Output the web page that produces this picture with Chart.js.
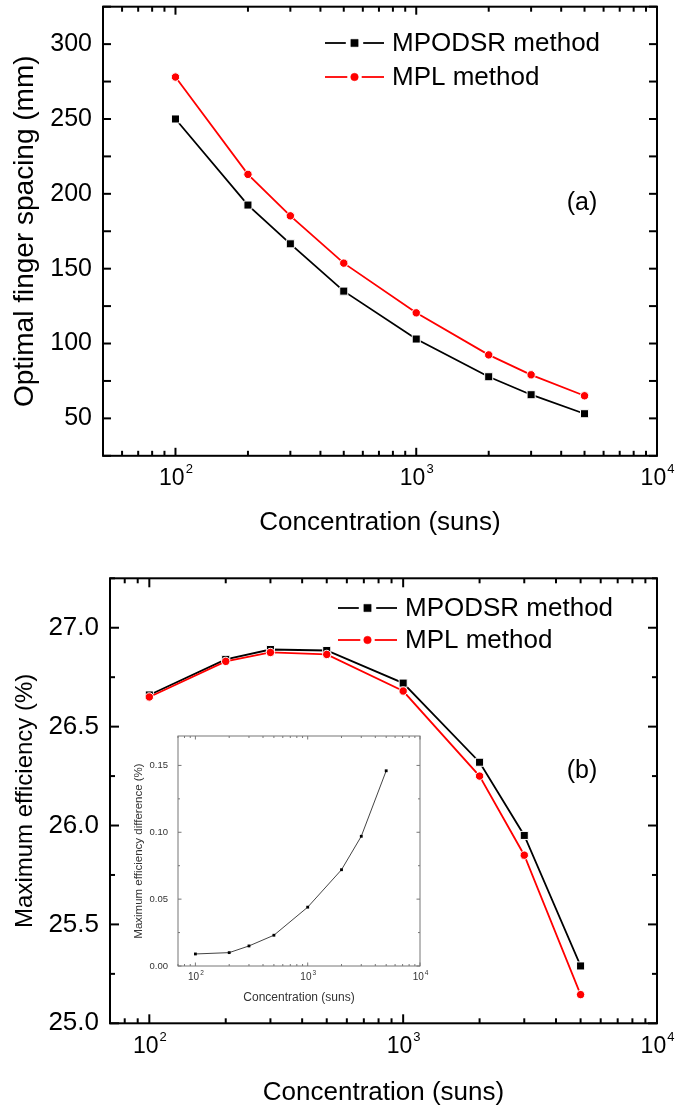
<!DOCTYPE html>
<html>
<head>
<meta charset="utf-8">
<script src="https://cdn.jsdelivr.net/npm/chart.js@4.4.1/dist/chart.umd.min.js"></script>
<style>
body { margin: 0; background: #fff; width: 676px; height: 1111px; position: relative; overflow: hidden; }
canvas { position: absolute; }
</style>
</head>
<body>
<canvas id="chartA" width="676" height="545" style="left:0;top:0"></canvas>
<canvas id="chartB" width="676" height="551" style="left:0;top:560px"></canvas>
<canvas id="chartInset" width="320" height="290" style="left:120px;top:725px"></canvas>
<script>
// values
var concentration = [100, 200, 300, 500, 1000, 2000, 3000, 5000];
var spacingMPODSR = [250, 192.5, 166.6, 135, 103, 77.8, 65.8, 53.1];
var spacingMPL = [278, 213, 185.3, 153.7, 120.5, 92.4, 79.1, 65.1];
var effMPODSR = [26.66, 26.84, 26.89, 26.885, 26.72, 26.32, 25.95, 25.29];
var effMPL = [26.65, 26.83, 26.875, 26.865, 26.68, 26.25, 25.85, 25.145];
var effDiff = [0.009, 0.010, 0.015, 0.023, 0.044, 0.072, 0.097, 0.146];

var decadeTicks = [100, 1000, 10000];
var spacingTicks = [50, 100, 150, 200, 250, 300];
var effTicks = [25.0, 25.5, 26.0, 26.5, 27.0];
var diffTicks = [0, 0.05, 0.10, 0.15];
var seriesNames = ['MPODSR method', 'MPL method'];

var FONT = "'Liberation Sans', Arial, sans-serif";

function pairs(xs, ys) {
    return xs.map(function(x, i) { return {x: x, y: ys[i]}; });
}

function line(ctx, x1, y1, x2, y2) {
    ctx.beginPath();
    ctx.moveTo(x1, y1);
    ctx.lineTo(x2, y2);
    ctx.stroke();
}

// Origin-like box: frame, inward ticks on all sides, 10^n labels, legend, panel tag
var originFrame = {
    id: 'originFrame',
    beforeDatasetsDraw: function(chart, args, o) {
        if (!o.fill) return;
        var ca = chart.chartArea, ctx = chart.ctx;
        ctx.save();
        ctx.fillStyle = '#fff';
        ctx.fillRect(ca.left, ca.top, ca.right - ca.left, ca.bottom - ca.top);
        ctx.restore();
    },
    afterDraw: function(chart, args, o) {
        var ca = chart.chartArea, ctx = chart.ctx;
        var x = chart.scales.x, y = chart.scales.y;
        ctx.save();
        ctx.strokeStyle = o.color;
        ctx.lineWidth = o.width;
        ctx.strokeRect(ca.left, ca.top, ca.right - ca.left, ca.bottom - ca.top);

        // log x ticks
        var e0 = Math.floor(Math.log10(x.min)), e1 = Math.ceil(Math.log10(x.max));
        for (var e = e0; e <= e1; e++) {
            for (var m = 1; m < 10; m++) {
                var v = m * Math.pow(10, e);
                if (v < x.min * 0.999 || v > x.max * 1.001) continue;
                var px = x.getPixelForValue(v);
                var len = m === 1 ? o.major : o.minor;
                line(ctx, px, ca.bottom, px, ca.bottom - len);
                line(ctx, px, ca.top, px, ca.top + len);
            }
        }
        // linear y ticks
        var step = o.yMinor;
        for (var k = Math.ceil(y.min / step - 1e-6); k * step <= y.max + 1e-9; k++) {
            var val = k * step;
            var py = y.getPixelForValue(val);
            var major = o.yAllMajor || Math.abs(val / (2 * step) - Math.round(val / (2 * step))) < 1e-6;
            var l2 = major ? o.major : o.minor;
            line(ctx, ca.left, py, ca.left + l2, py);
            line(ctx, ca.right, py, ca.right - l2, py);
        }

        // 10^n labels
        ctx.fillStyle = o.textColor;
        ctx.textBaseline = 'middle';
        ctx.textAlign = 'left';
        decadeTicks.forEach(function(d) {
            if (d < x.min || d > x.max * 1.001) return;
            var p = x.getPixelForValue(d);
            var ex = String(Math.round(Math.log10(d)));
            ctx.font = o.baseSize + 'px ' + FONT;
            var w1 = ctx.measureText('10').width;
            ctx.font = o.expSize + 'px ' + FONT;
            var w2 = ctx.measureText(ex).width;
            var sx = p - (w1 + w2) / 2;
            ctx.font = o.baseSize + 'px ' + FONT;
            ctx.fillText('10', sx, ca.bottom + o.baseDy);
            ctx.font = o.expSize + 'px ' + FONT;
            ctx.fillText(ex, sx + w1 + 1, ca.bottom + o.expDy);
        });

        // legend: line - marker - line, then the label
        if (o.legend) {
            var L = o.legend;
            chart.data.datasets.forEach(function(ds, i) {
                var ly = L.y[i], mid = (L.x1 + L.x2) / 2, gap = ds.pointRadius + 3;
                ctx.strokeStyle = ds.borderColor;
                ctx.lineWidth = ds.borderWidth;
                line(ctx, L.x1, ly, mid - gap, ly);
                line(ctx, mid + gap, ly, L.x2, ly);
                ctx.fillStyle = ds.pointBackgroundColor;
                ctx.strokeStyle = ds.pointBackgroundColor;
                ctx.lineWidth = 0.5;
                Chart.helpers.drawPoint(ctx, {pointStyle: ds.pointStyle, radius: ds.pointRadius * 0.9, borderWidth: 0.5, rotation: 0}, mid, ly);
                ctx.fillStyle = '#000';
                ctx.font = L.size + 'px ' + FONT;
                ctx.textAlign = 'left';
                ctx.textBaseline = 'middle';
                ctx.fillText(ds.label, L.tx, ly + 1);
            });
        }
        if (o.tag) {
            ctx.fillStyle = '#000';
            ctx.font = o.tag.size + 'px ' + FONT;
            ctx.textAlign = 'center';
            ctx.textBaseline = 'middle';
            ctx.fillText(o.tag.text, o.tag.x, o.tag.y);
        }
        ctx.restore();
    }
};

function blackSet(label, data) {
    return {
        label: label, data: data, order: 1,
        borderColor: '#000', borderWidth: 1.8, tension: 0,
        pointStyle: 'rect', pointRadius: 5.7, pointBackgroundColor: '#000',
        pointBorderColor: '#fff', pointBorderWidth: 1
    };
}
function redSet(label, data) {
    return {
        label: label, data: data, order: 0,
        borderColor: '#ff0000', borderWidth: 1.8, tension: 0,
        pointStyle: 'circle', pointRadius: 4.2, pointBackgroundColor: '#ff0000',
        pointBorderColor: '#fff', pointBorderWidth: 1
    };
}

function panelOptions(p) {
    return {
        responsive: false,
        animation: false,
        events: [],
        layout: {padding: {top: p.top, right: p.right, left: 0, bottom: 0}},
        plugins: {
            legend: {display: false},
            tooltip: {enabled: false},
            originFrame: p.frame
        },
        scales: {
            x: {
                type: 'logarithmic', min: p.xmin, max: 10000,
                grid: {display: false, drawTicks: false}, border: {display: false},
                ticks: {display: false},
                title: {display: true, text: 'Concentration (suns)', color: p.textColor,
                        font: {size: p.xTitleSize, family: FONT}, padding: {top: 0, bottom: p.xTitlePad}},
                afterFit: function(s) { s.height = p.xHeight; s.paddingLeft = 0; s.paddingRight = 0; }
            },
            y: {
                type: 'linear', min: p.ymin, max: p.ymax,
                grid: {display: false, drawTicks: false}, border: {display: false},
                afterBuildTicks: function(s) { s.ticks = p.yTicks.map(function(v) { return {value: v}; }); },
                ticks: {color: p.textColor, padding: p.tickPad, font: {size: p.tickSize, family: FONT},
                        callback: function(v) { return Number(v).toFixed(p.digits); }},
                title: {display: true, text: p.yTitle, color: p.textColor,
                        font: {size: p.yTitleSize, family: FONT}, padding: {top: p.yTitlePad, bottom: 0}},
                afterFit: function(s) { s.width = p.yWidth; s.paddingTop = 0; s.paddingBottom = 0; }
            }
        }
    };
}

Chart.register(originFrame);

new Chart(document.getElementById('chartA').getContext('2d'), {
    type: 'line',
    data: {datasets: [blackSet(seriesNames[0], pairs(concentration, spacingMPODSR)),
                      redSet(seriesNames[1], pairs(concentration, spacingMPL))]},
    options: panelOptions({
        top: 5.8, right: 19, xmin: 50, ymin: 25, ymax: 325, yTicks: spacingTicks, digits: 0,
        xHeight: 89.2, yWidth: 103, xTitleSize: 26, xTitlePad: 7, yTitleSize: 28, yTitlePad: 8,
        tickSize: 25, tickPad: 11, textColor: '#000', yTitle: 'Optimal finger spacing (mm)',
        frame: {color: '#000', width: 2, major: 8, minor: 5, yMinor: 25, yAllMajor: true, textColor: '#000',
                baseSize: 23, expSize: 13, baseDy: 23, expDy: 14,
                legend: {x1: 325, x2: 384, tx: 392, y: [43, 77], size: 26},
                tag: {text: '(a)', x: 582, y: 203, size: 25}}
    })
});

new Chart(document.getElementById('chartB').getContext('2d'), {
    type: 'line',
    data: {datasets: [blackSet(seriesNames[0], pairs(concentration, effMPODSR)),
                      redSet(seriesNames[1], pairs(concentration, effMPL))]},
    options: panelOptions({
        top: 18.3, right: 19, xmin: 70, ymin: 25, ymax: 27.25, yTicks: effTicks, digits: 1,
        xHeight: 87.7, yWidth: 110, xTitleSize: 26, xTitlePad: 3, yTitleSize: 24, yTitlePad: 10.5,
        tickSize: 26, tickPad: 11, textColor: '#000', yTitle: 'Maximum efficiency (%)',
        frame: {color: '#000', width: 2, major: 9, minor: 5, yMinor: 0.25, textColor: '#000',
                baseSize: 23, expSize: 13, baseDy: 23, expDy: 14,
                legend: {x1: 338, x2: 397, tx: 405, y: [48, 80], size: 26},
                tag: {text: '(b)', x: 582, y: 211, size: 25}}
    })
});

new Chart(document.getElementById('chartInset').getContext('2d'), {
    type: 'line',
    data: {datasets: [{
        label: 'difference', data: pairs(concentration, effDiff),
        borderColor: '#444', borderWidth: 1, tension: 0,
        pointStyle: 'rect', pointRadius: 2, pointBackgroundColor: '#000',
        pointBorderColor: '#000', pointBorderWidth: 0
    }]},
    options: panelOptions({
        top: 11, right: 20, xmin: 70, ymin: 0, ymax: 0.172, yTicks: diffTicks, digits: 2,
        xHeight: 49, yWidth: 58, xTitleSize: 12, xTitlePad: 10, yTitleSize: 11.5, yTitlePad: 12,
        tickSize: 9.5, tickPad: 10, textColor: '#333', yTitle: 'Maximum efficiency difference (%)',
        frame: {color: '#777', width: 1, major: 3.5, minor: 2, yMinor: 0.025, textColor: '#333',
                baseSize: 10, expSize: 6.5, baseDy: 11, expDy: 7, fill: true}
    })
});
</script>
</body>
</html>
